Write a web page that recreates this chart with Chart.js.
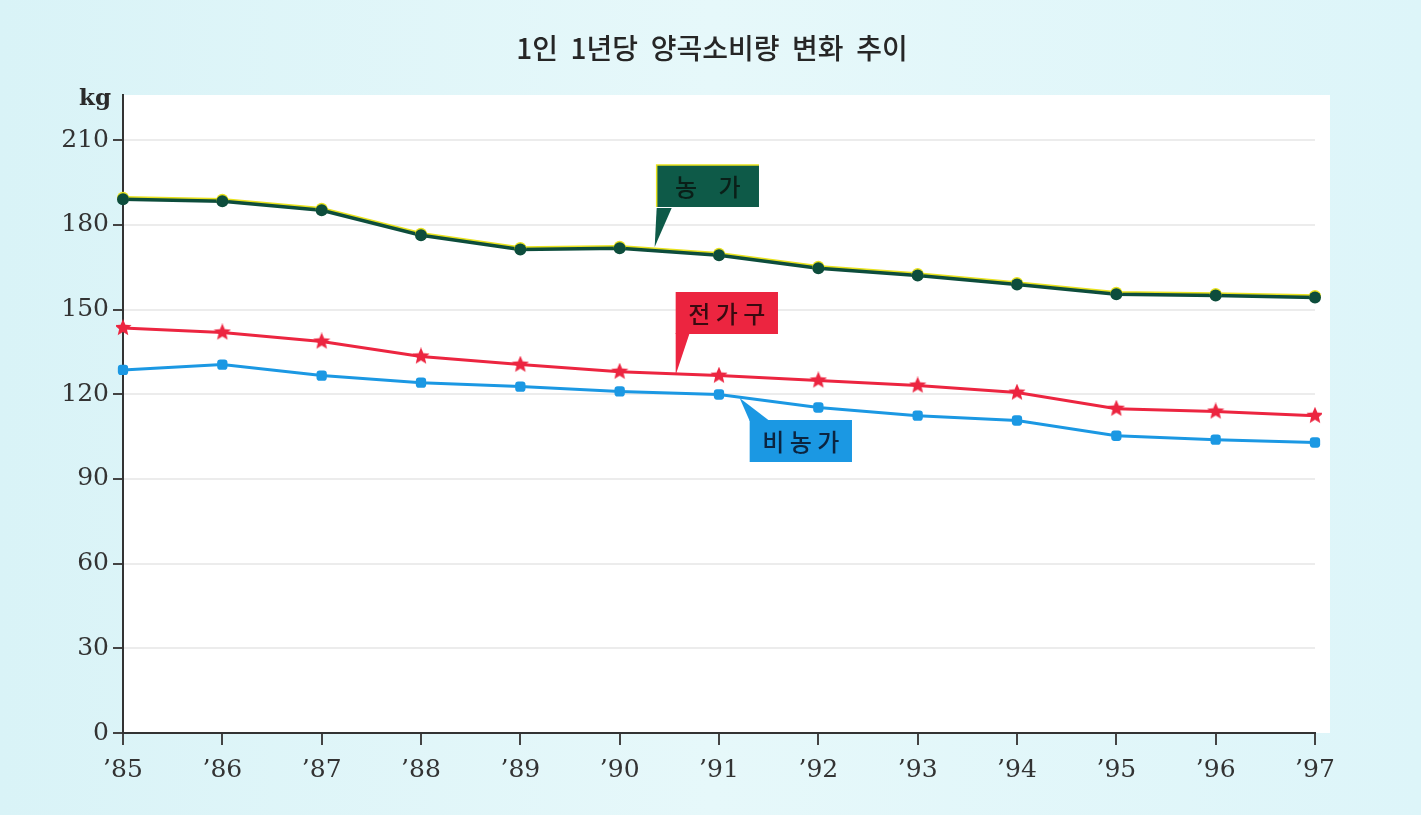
<!DOCTYPE html>
<html>
<head>
<meta charset="utf-8">
<script src="https://cdn.jsdelivr.net/npm/chart.js@4"></script>
<style>
  html, body { margin: 0; padding: 0; background: #e2f6f9; }
  #wrap { width: 1421px; height: 815px; }
</style>
</head>
<body>
<div id="wrap"><canvas id="chart" width="1421" height="815"></canvas></div>
<script>
// 연도 (x축)
const years = ['’85', '’86', '’87', '’88', '’89', '’90', '’91', '’92', '’93', '’94', '’95', '’96', '’97'];

// 1인 1년당 양곡소비량 (kg)
const farmHouseholds = [189.1, 188.4, 185.2, 176.3, 171.3, 171.7, 169.2, 164.6, 162.1, 158.9, 155.4, 155.0, 154.3];
const allHouseholds = [143.5, 141.9, 138.7, 133.4, 130.5, 128.0, 126.6, 124.9, 123.1, 120.6, 114.9, 113.9, 112.4];
const nonFarmHouseholds = [128.6, 130.5, 126.6, 124.1, 122.7, 121.0, 119.9, 115.3, 112.4, 110.7, 105.3, 103.9, 102.9];

const yTicks = [0, 30, 60, 90, 120, 150, 180, 210];

const GREEN = '#0d4d3c';
const RED = '#ec2540';
const BLUE = '#1b98e3';

// filled star marker for 전가구
function makeStar(size, color) {
    const c = document.createElement('canvas');
    c.width = size; c.height = size;
    const g = c.getContext('2d');
    const cx = size / 2, cy = size / 2, R = size / 2, r = R * 0.45;
    g.beginPath();
    for (let i = 0; i < 10; i++) {
        const rad = i % 2 === 0 ? R : r;
        const a = -Math.PI / 2 + i * Math.PI / 5;
        g.lineTo(cx + rad * Math.cos(a), cy + rad * Math.sin(a));
    }
    g.closePath();
    g.fillStyle = color;
    g.fill();
    return c;
}

// background + white plot panel + title + kg label
const backdrop = {
    id: 'backdrop',
    beforeDraw(chart) {
        const { ctx, chartArea } = chart;
        ctx.save();
        const grad = ctx.createLinearGradient(0, 0, 1421, 0);
        grad.addColorStop(0, '#d9f3f7');
        grad.addColorStop(0.5, '#e6f8fa');
        grad.addColorStop(1, '#ddf5f9');
        ctx.fillStyle = grad;
        ctx.fillRect(0, 0, chart.width, chart.height);
        ctx.fillStyle = '#ffffff';
        ctx.fillRect(chartArea.left, chartArea.top, chartArea.right - chartArea.left + 15, chartArea.bottom - chartArea.top);

        ctx.fillStyle = '#262626';
        ctx.font = '500 28px "Noto Sans CJK KR"';
        ctx.textAlign = 'center';
        ctx.textBaseline = 'middle';
        ctx.fillText('1인  1년당  양곡소비량  변화  추이', 712, 48);

        ctx.font = 'bold 23px "DejaVu Serif"';
        ctx.textAlign = 'right';
        ctx.fillStyle = '#2a2a2a';
        ctx.fillText('kg', chartArea.left - 12, chartArea.top + 4);
        ctx.restore();
    }
};

// yellow edge on top of the 농가 line
const lineEdge = {
    id: 'lineEdge',
    beforeDatasetDraw(chart, args) {
        if (args.index !== 0) return;
        const ctx = chart.ctx;
        ctx.save();
        ctx.shadowColor = '#e9e21e';
        ctx.shadowOffsetY = -1.5;
        ctx.shadowBlur = 0;
    },
    afterDatasetDraw(chart, args) {
        if (args.index !== 0) return;
        chart.ctx.restore();
    }
};

// callout boxes
const callouts = {
    id: 'callouts',
    afterDatasetsDraw(chart) {
        const { ctx } = chart;
        const x = chart.scales.x;
        const step = x.getPixelForValue(1) - x.getPixelForValue(0);
        const x5 = x.getPixelForValue(5);

        const boxes = [
            { label: '농    가', fill: '#0e5a48', text: '#0a1f18', edge: '#e9e21e',
              bx: x5 + 37, by: 165, tail: [[x5 + 37, 208], [x5 + 35, 247], [x5 + 52, 208]] },
            { label: '전 가 구', fill: '#ec2540', text: '#3a0a10', edge: null,
              bx: x5 + 56, by: 292, tail: [[x5 + 56, 333], [x5 + 56, 375], [x5 + 70, 333]] },
            { label: '비 농 가', fill: '#1b98e3', text: '#0b2440', edge: null,
              bx: x5 + 130, by: 420, tail: [[x5 + 130, 421], [x5 + 120, 398], [x5 + 150, 421]] }
        ];
        const w = step * 1.03, h = 42;

        ctx.save();
        boxes.forEach(b => {
            ctx.fillStyle = b.fill;
            ctx.fillRect(b.bx, b.by, w, h);
            ctx.beginPath();
            b.tail.forEach((p, i) => i === 0 ? ctx.moveTo(p[0], p[1]) : ctx.lineTo(p[0], p[1]));
            ctx.closePath();
            ctx.fill();
            if (b.edge) {
                ctx.strokeStyle = b.edge;
                ctx.lineWidth = 1.5;
                ctx.beginPath();
                ctx.moveTo(b.bx, b.by + h);
                ctx.lineTo(b.bx, b.by);
                ctx.lineTo(b.bx + w, b.by);
                ctx.stroke();
            }
            ctx.fillStyle = b.text;
            ctx.font = '500 24px "Noto Sans CJK KR"';
            ctx.textAlign = 'center';
            ctx.textBaseline = 'middle';
            ctx.fillText(b.label, b.bx + w / 2, b.by + h / 2 + 1);
        });
        ctx.restore();
    }
};

const ctx = document.getElementById('chart');

new Chart(ctx, {
    type: 'line',
    data: {
        labels: years,
        datasets: [
            {
                label: '농가',
                data: farmHouseholds,
                borderColor: GREEN,
                backgroundColor: GREEN,
                borderWidth: 3.5,
                pointStyle: 'circle',
                pointRadius: 6,
                pointBorderWidth: 0,
                tension: 0
            },
            {
                label: '전가구',
                data: allHouseholds,
                borderColor: RED,
                backgroundColor: RED,
                borderWidth: 3,
                pointStyle: makeStar(18, RED),
                tension: 0
            },
            {
                label: '비농가',
                data: nonFarmHouseholds,
                borderColor: BLUE,
                backgroundColor: BLUE,
                borderWidth: 3,
                pointStyle: 'rectRounded',
                pointRadius: 6,
                pointBorderWidth: 0,
                tension: 0
            }
        ]
    },
    options: {
        responsive: false,
        animation: false,
        layout: { padding: { top: 95, right: 106, bottom: 20, left: 0 } },
        plugins: {
            legend: { display: false },
            title: { display: false },
            tooltip: { enabled: false }
        },
        scales: {
            x: {
                afterFit(scale) { scale.height = 62; },
                border: { color: '#333', width: 2 },
                grid: { drawOnChartArea: false, tickLength: 12, tickColor: '#444', lineWidth: 2 },
                ticks: {
                    color: '#333',
                    padding: 10,
                    maxRotation: 0,
                    font: { family: '"DejaVu Serif"', size: 25 }
                }
            },
            y: {
                min: 0,
                max: 226,
                afterFit(scale) { scale.width = 123; },
                afterBuildTicks(scale) { scale.ticks = yTicks.map(v => ({ value: v })); },
                border: { color: '#333', width: 2 },
                grid: { color: '#ececec', lineWidth: 2, tickLength: 10, tickColor: '#444' },
                ticks: {
                    color: '#333',
                    padding: 4,
                    font: { family: '"DejaVu Serif"', size: 25 }
                }
            }
        }
    },
    plugins: [backdrop, lineEdge, callouts]
});
</script>
</body>
</html>
